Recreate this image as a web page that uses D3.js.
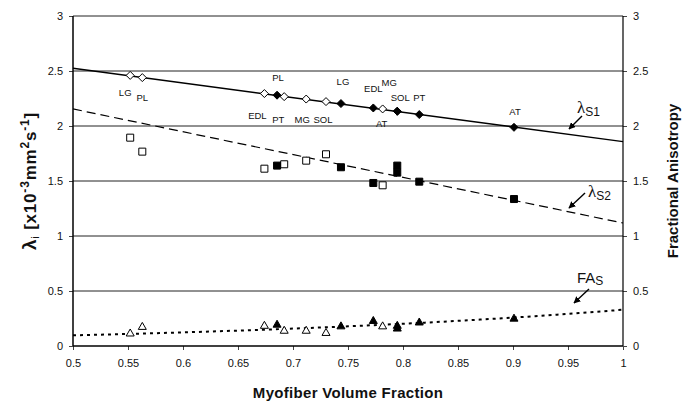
<!DOCTYPE html>
<html>
<head>
<meta charset="utf-8">
<script src="https://cdn.jsdelivr.net/npm/d3@7"></script>
<style>
  body { margin: 0; background: #fff; }
  text { font-family: Arial, "Liberation Sans", sans-serif; fill: #111; }
  .tick text { font-size: 11px; }
  .lbl { font-size: 9.5px; }
  .title { font-size: 15px; font-weight: bold; }
</style>
</head>
<body>
<svg id="chart" width="691" height="404"></svg>
<script>
// ── Data ───────────────────────────────────────────────────────
const openNames = ['LG', 'PL', 'EDL', 'PT', 'MG', 'SOL', 'AT'];
const openX     = [0.552, 0.563, 0.674, 0.692, 0.712, 0.730, 0.7815];
const openS1    = [2.46, 2.44, 2.295, 2.267, 2.245, 2.222, 2.155];
const openS2    = [1.894, 1.767, 1.612, 1.652, 1.685, 1.743, 1.461];
const openFA    = [0.12, 0.18, 0.19, 0.145, 0.145, 0.125, 0.185];

const filledNames = ['PL', 'LG', 'EDL', 'MG', 'SOL', 'PT', 'AT'];
const filledX     = [0.6855, 0.7436, 0.773, 0.7948, 0.7948, 0.8148, 0.9009];
const filledS1    = [2.28, 2.204, 2.164, 2.134, 2.134, 2.104, 1.988];
const filledS2    = [1.64, 1.625, 1.482, 1.576, 1.64, 1.494, 1.336];
const filledFA    = [0.2, 0.185, 0.234, 0.165, 0.19, 0.22, 0.255];

// trend lines: value at x = 0.5 and x = 1
const trendX  = [0.5, 1];
const s1Trend = [2.525, 1.858];   // linear
const s2Trend = [2.155, 1.118];   // linear
const faTrend = [0.097, 0.33];    // exponential

const xTicks = [0.5, 0.55, 0.6, 0.65, 0.7, 0.75, 0.8, 0.85, 0.9, 0.95, 1];
const yTicks = [0, 0.5, 1, 1.5, 2, 2.5, 3];

// ── Layout ─────────────────────────────────────────────────────
const M = { left: 73, top: 16, right: 68, bottom: 58 };
const W = 691, H = 404;
const svg = d3.select('#chart');

const x = d3.scaleLinear().domain([0.5, 1]).range([M.left, W - M.right]);
const y = d3.scaleLinear().domain([0, 3]).range([H - M.bottom, M.top]);

const defs = svg.append('defs');
defs.append('marker')
  .attr('id', 'head').attr('viewBox', '0 -5 10 10')
  .attr('refX', 9).attr('refY', 0)
  .attr('markerWidth', 5).attr('markerHeight', 5).attr('orient', 'auto')
  .append('path').attr('d', 'M0,-5L10,0L0,5Z').attr('fill', '#000');

// ── Gridlines ──────────────────────────────────────────────────
svg.append('g').selectAll('line')
  .data(yTicks.filter(d => d > 0)).join('line')
  .attr('x1', x(0.5)).attr('x2', x(1))
  .attr('y1', d => y(d)).attr('y2', d => y(d))
  .attr('stroke', '#222').attr('stroke-width', 1);

// ── Axes ───────────────────────────────────────────────────────
const fmt = d => String(d);
const xAxis = svg.append('g').attr('transform', `translate(0,${y(0)})`)
  .call(d3.axisBottom(x).tickValues(xTicks).tickFormat(fmt).tickSize(4).tickPadding(9));
const yAxisL = svg.append('g').attr('transform', `translate(${x(0.5)},0)`)
  .call(d3.axisLeft(y).tickValues(yTicks).tickFormat(fmt).tickSize(4).tickPadding(6));
const yAxisR = svg.append('g').attr('transform', `translate(${x(1)},0)`)
  .call(d3.axisRight(y).tickValues(yTicks).tickFormat(fmt).tickSize(4).tickPadding(6));

[xAxis, yAxisL, yAxisR].forEach(a => {
  a.select('.domain').remove();
  a.selectAll('.tick line').attr('stroke', '#444');
  a.selectAll('.tick text').attr('fill', '#111');
});
svg.append('line').attr('x1', x(0.5)).attr('x2', x(0.5)).attr('y1', y(0)).attr('y2', y(3))
  .attr('stroke', '#000').attr('stroke-width', 1.5);
svg.append('line').attr('x1', x(1)).attr('x2', x(1)).attr('y1', y(0)).attr('y2', y(3))
  .attr('stroke', '#000').attr('stroke-width', 1.2);
svg.append('line').attr('x1', x(0.5)).attr('x2', x(1)).attr('y1', y(0)).attr('y2', y(0))
  .attr('stroke', '#000').attr('stroke-width', 1.5);

// ── Trend lines ────────────────────────────────────────────────
const lin = vals => d3.line().x(d => x(d[0])).y(d => y(d[1]))(d3.zip(trendX, vals));

svg.append('path').attr('d', lin(s1Trend))
  .attr('fill', 'none').attr('stroke', '#000').attr('stroke-width', 1.5);
svg.append('path').attr('d', lin(s2Trend))
  .attr('fill', 'none').attr('stroke', '#000').attr('stroke-width', 1.2)
  .attr('stroke-dasharray', '9,5');

const b = Math.log(faTrend[1] / faTrend[0]) / (trendX[1] - trendX[0]);
const faPts = d3.range(0.5, 1.0001, 0.01).map(v => [v, faTrend[0] * Math.exp(b * (v - 0.5))]);
svg.append('path').attr('d', d3.line().x(d => x(d[0])).y(d => y(d[1]))(faPts))
  .attr('fill', 'none').attr('stroke', '#000').attr('stroke-width', 2)
  .attr('stroke-dasharray', '3,4');

// ── Markers ────────────────────────────────────────────────────
const shapes = {
  diamond: 'M0,-4L4,0L0,4L-4,0Z',
  square: 'M-3.5,-3.5H3.5V3.5H-3.5Z',
  triangle: 'M0,-3.8L4,3.2H-4Z'
};

function drawSeries(xs, ys, shape, filled) {
  svg.append('g').selectAll('path')
    .data(d3.zip(xs, ys)).join('path')
    .attr('d', shapes[shape])
    .attr('transform', d => `translate(${x(d[0])},${y(d[1])})`)
    .attr('fill', filled ? '#000' : '#fff')
    .attr('stroke', '#000').attr('stroke-width', 1);
}

drawSeries(openX, openS1, 'diamond', false);
drawSeries(filledX, filledS1, 'diamond', true);
drawSeries(openX, openS2, 'square', false);
drawSeries(filledX, filledS2, 'square', true);
drawSeries(openX, openFA, 'triangle', false);
drawSeries(filledX, filledFA, 'triangle', true);

// ── Muscle labels (open below the line, filled above) ──────────
const openNudge   = [[-5, 17], [0, 20], [-7, 22], [-6, 23], [-4, 20], [-3, 18], [-1, 15]];
const filledNudge = [[1, -18], [2, -22], [0, -19], [-8, -29], [3, -14], [0, -17], [1, -16]];

function drawLabels(names, xs, ys, nudge) {
  svg.append('g').selectAll('text')
    .data(names).join('text')
    .attr('class', 'lbl')
    .attr('text-anchor', 'middle')
    .attr('x', (d, i) => x(xs[i]) + nudge[i][0])
    .attr('y', (d, i) => y(ys[i]) + nudge[i][1] + 3.5)
    .text(d => d);
}
drawLabels(openNames, openX, openS1, openNudge);
drawLabels(filledNames, filledX, filledS1, filledNudge);

// ── Curve annotations ──────────────────────────────────────────
function arrow(x1, y1, x2, y2) {
  svg.append('line').attr('x1', x1).attr('y1', y1).attr('x2', x2).attr('y2', y2)
    .attr('stroke', '#000').attr('stroke-width', 1.4).attr('marker-end', 'url(#head)');
}

function lambdaNote(tx, ty, sub) {
  const t = svg.append('text').attr('x', tx).attr('y', ty);
  t.append('tspan').text('λ').style('font-family', '"Liberation Serif", "DejaVu Serif", serif')
    .style('font-size', '17px');
  t.append('tspan').text(sub).attr('dy', 3).style('font-size', '12px');
}
lambdaNote(577, 113, 'S1');
arrow(582, 116, 569, 129);
lambdaNote(588, 197, 'S2');
arrow(585, 193, 569, 208);

const fa = svg.append('text').attr('x', 577).attr('y', 283);
fa.append('tspan').text('FA').style('font-size', '15px');
fa.append('tspan').text('S').attr('dy', 2).style('font-size', '12px');
arrow(589, 289, 574, 303);

// ── Axis titles ────────────────────────────────────────────────
svg.append('text').attr('class', 'title')
  .attr('x', x(0.75)).attr('y', 398).attr('text-anchor', 'middle')
  .style('letter-spacing', '0.3px')
  .text('Myofiber Volume Fraction');

svg.append('text').attr('class', 'title')
  .attr('transform', `translate(678,${y(1.5)}) rotate(-90)`)
  .attr('text-anchor', 'middle')
  .text('Fractional Anisotropy');

const yt = svg.append('text').attr('class', 'title')
  .attr('transform', `translate(36,${y(1.5)}) rotate(-90)`)
  .attr('text-anchor', 'middle')
  .style('font-size', '17px')
  .style('letter-spacing', '0.8px');
yt.append('tspan').text('λ').style('font-size', '19px');
yt.append('tspan').text('i').attr('dy', 3).style('font-size', '11px').style('font-weight', 'normal');
yt.append('tspan').text(' [x10').attr('dy', -3);
yt.append('tspan').text('-3').attr('dy', -7).style('font-size', '12px');
yt.append('tspan').text('mm').attr('dy', 7);
yt.append('tspan').text('2').attr('dy', -7).style('font-size', '12px');
yt.append('tspan').text('s').attr('dy', 7);
yt.append('tspan').text('-1').attr('dy', -7).style('font-size', '12px');
yt.append('tspan').text(']').attr('dy', 7);
</script>
</body>
</html>
